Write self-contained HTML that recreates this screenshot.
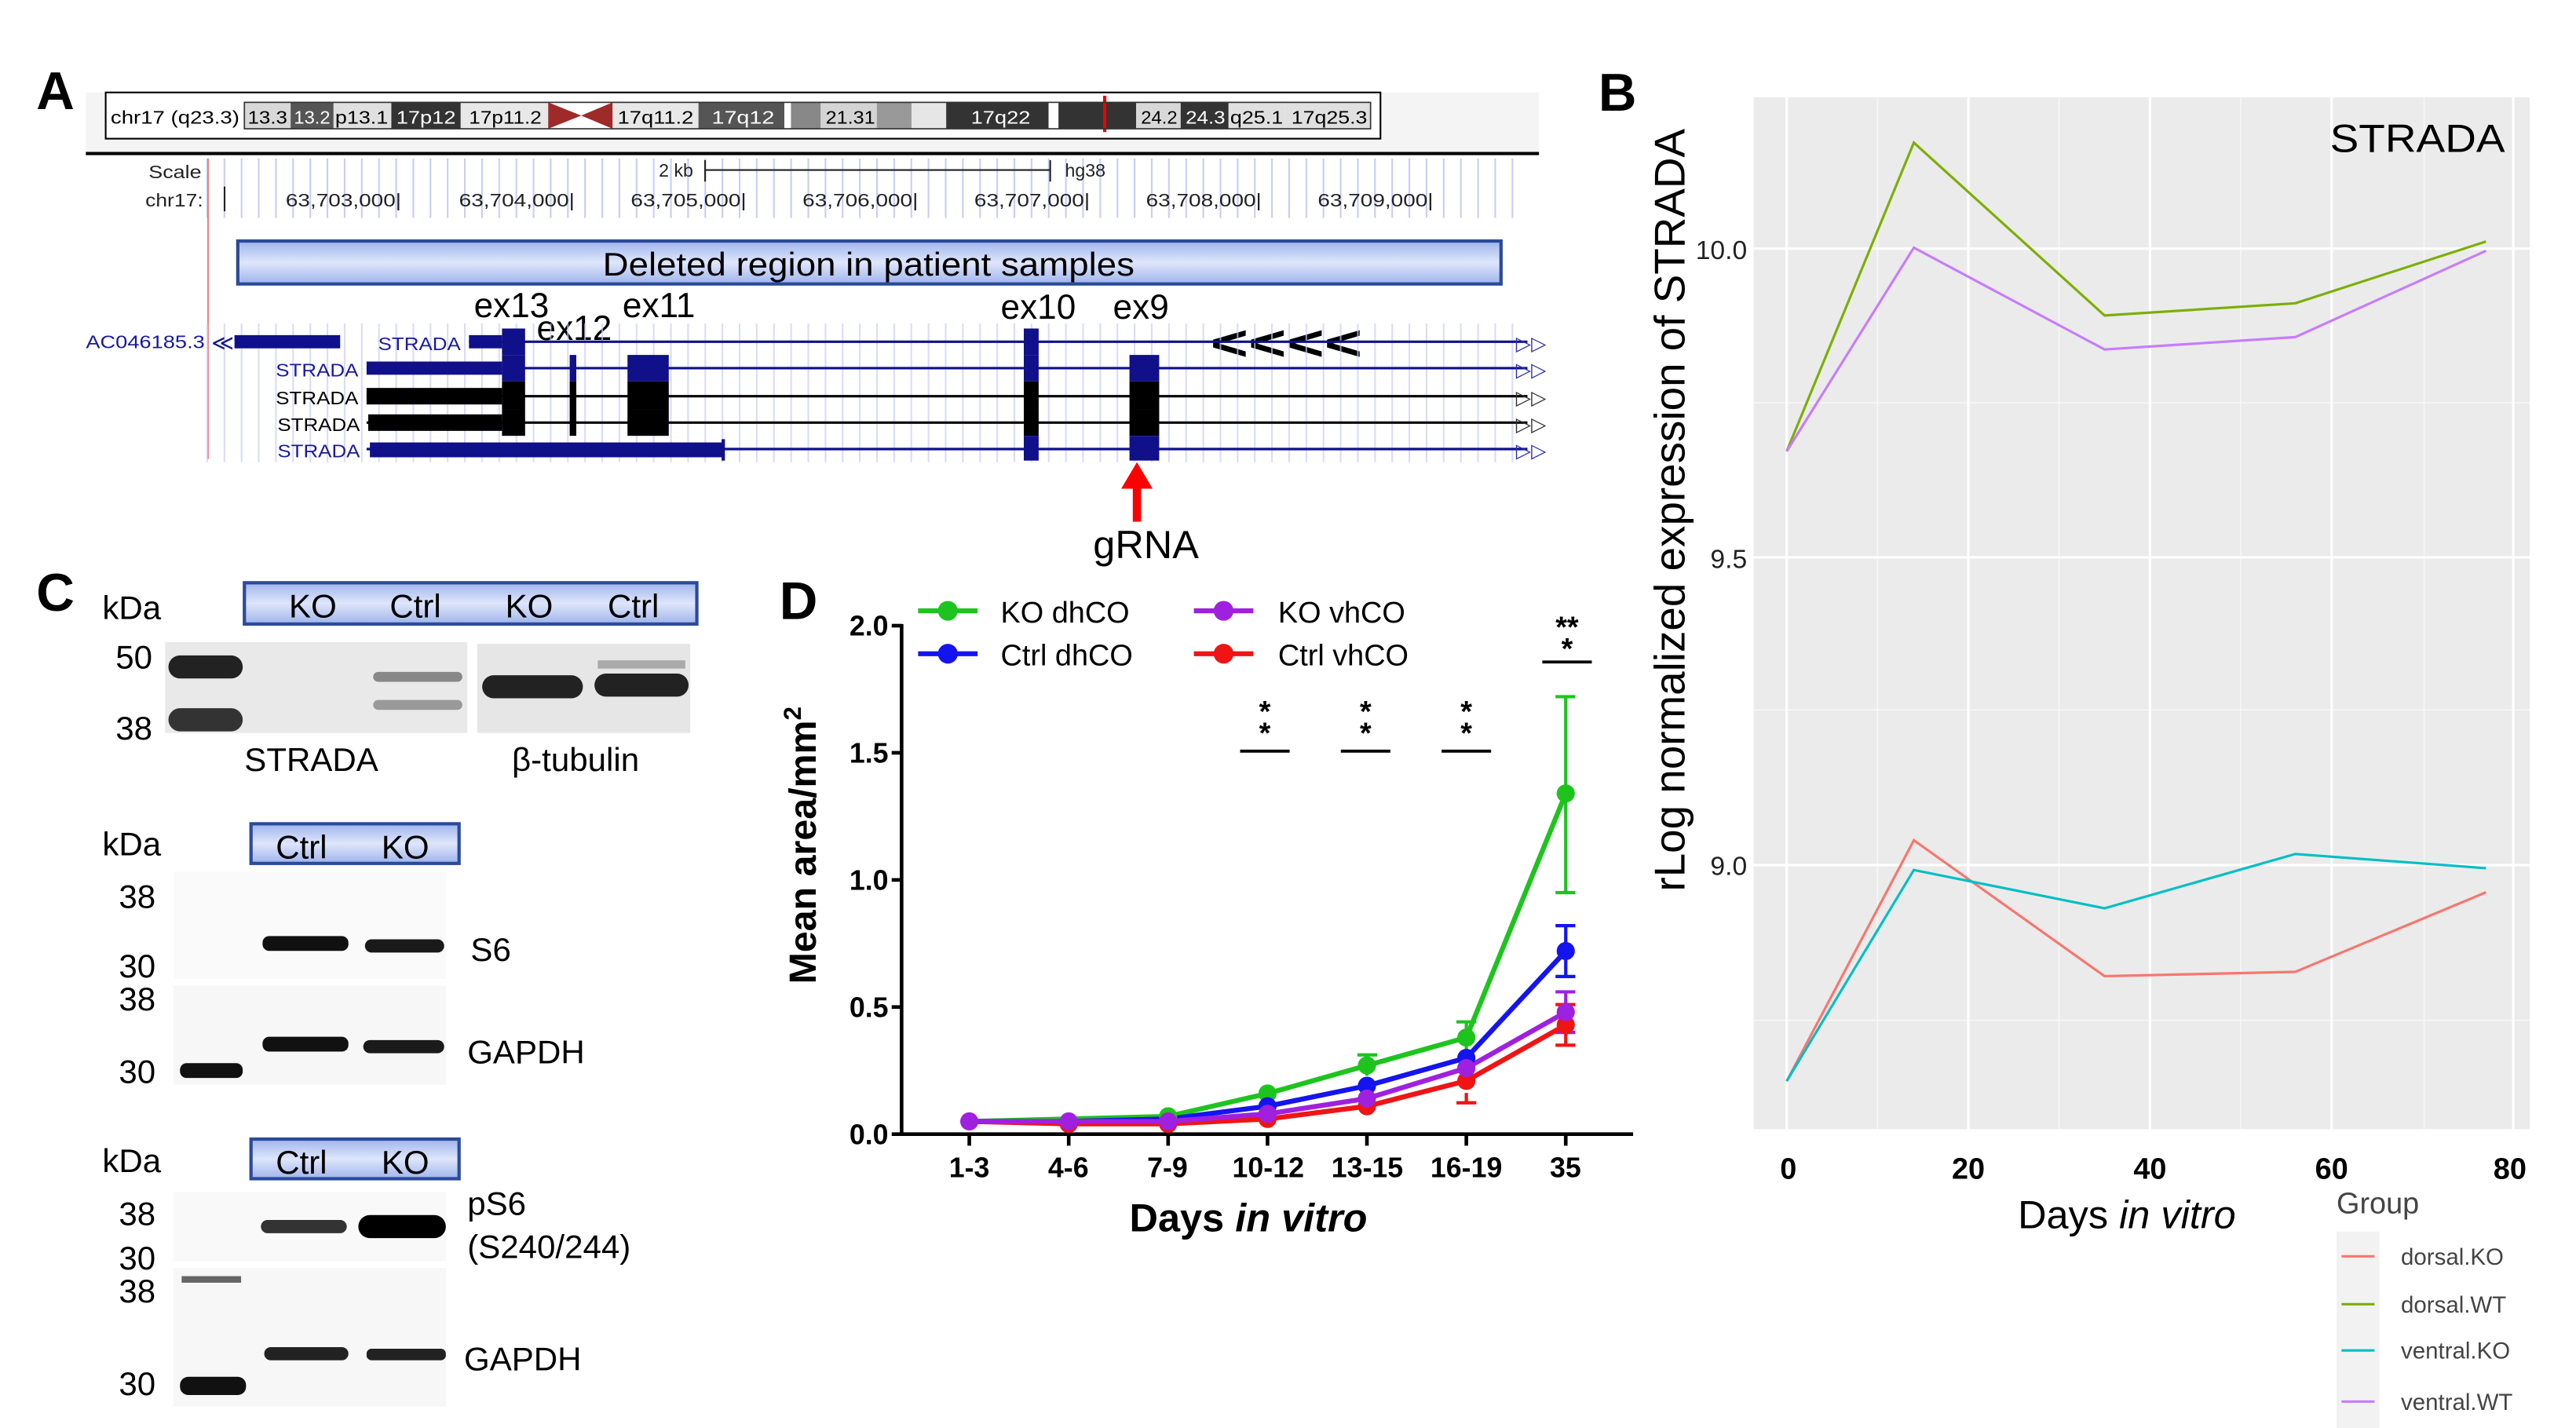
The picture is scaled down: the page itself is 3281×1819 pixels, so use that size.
<!DOCTYPE html>
<html><head><meta charset="utf-8"><style>html,body{margin:0;padding:0;background:#fff}svg{display:block}</style></head>
<body>
<svg xmlns="http://www.w3.org/2000/svg" width="3281" height="1819" viewBox="0 0 1560 865" preserveAspectRatio="none" font-family="Liberation Sans, sans-serif">
<defs>
<linearGradient id="bg1" x1="0" y1="0" x2="0" y2="1"><stop offset="0" stop-color="#9fb4ec"/><stop offset="0.5" stop-color="#dfe6fb"/><stop offset="1" stop-color="#9fb4ec"/></linearGradient>
<pattern id="grid" width="10.4" height="40" patternUnits="userSpaceOnUse" x="125"><line x1="0.5" y1="0" x2="0.5" y2="40" stroke="#c8cdf5" stroke-width="1"/></pattern>
</defs>
<rect width="1560" height="865" fill="#fff"/>
<!-- PANEL A -->
<text x="22" y="66" font-size="32" font-weight="bold">A</text>
<rect x="52" y="56" width="880" height="37" fill="#f4f4f4"/>
<line x1="52" y1="93" x2="932" y2="93" stroke="#000" stroke-width="2"/>
<rect x="64" y="56" width="772" height="28" fill="#fff" stroke="#000" stroke-width="1"/>
<text x="67" y="75" font-size="11" textLength="78" lengthAdjust="spacingAndGlyphs">chr17 (q23.3)</text>
<g font-size="11" stroke="none">
<rect x="148" y="62" width="28" height="16" fill="#d8d8d8"/><text x="150" y="75" textLength="24" lengthAdjust="spacingAndGlyphs">13.3</text>
<rect x="176" y="62" width="26" height="16" fill="#555"/><text x="178" y="75" fill="#fff" textLength="22" lengthAdjust="spacingAndGlyphs">13.2</text>
<rect x="202" y="62" width="35" height="16" fill="#e0e0e0"/><text x="203" y="75" textLength="32" lengthAdjust="spacingAndGlyphs">p13.1</text>
<rect x="237" y="62" width="42" height="16" fill="#333"/><text x="240" y="75" fill="#fff" textLength="36" lengthAdjust="spacingAndGlyphs">17p12</text>
<rect x="279" y="62" width="53" height="16" fill="#e8e8e8"/><text x="284" y="75" textLength="44" lengthAdjust="spacingAndGlyphs">17p11.2</text>
<polygon points="332,62 352,70 332,78" fill="#9e2a2a"/><polygon points="371,62 352,70 371,78" fill="#9e2a2a"/>
<rect x="371" y="62" width="52" height="16" fill="#e8e8e8"/><text x="374" y="75" textLength="46" lengthAdjust="spacingAndGlyphs">17q11.2</text>
<rect x="423" y="62" width="52" height="16" fill="#555"/><text x="431" y="75" fill="#fff" textLength="38" lengthAdjust="spacingAndGlyphs">17q12</text>
<rect x="475" y="62" width="4" height="16" fill="#fff"/>
<rect x="479" y="62" width="18" height="16" fill="#888"/>
<rect x="497" y="62" width="34" height="16" fill="#d4d4d4"/><text x="500" y="75" textLength="30" lengthAdjust="spacingAndGlyphs">21.31</text>
<rect x="531" y="62" width="21" height="16" fill="#999"/>
<rect x="552" y="62" width="21" height="16" fill="#e6e6e6"/>
<rect x="573" y="62" width="62" height="16" fill="#333"/><text x="588" y="75" fill="#fff" textLength="36" lengthAdjust="spacingAndGlyphs">17q22</text>
<rect x="635" y="62" width="6" height="16" fill="#fff"/>
<rect x="641" y="62" width="47" height="16" fill="#333"/>
<rect x="668" y="58" width="2" height="22" fill="#e00"/>
<rect x="688" y="62" width="27" height="16" fill="#d8d8d8"/><text x="691" y="75" textLength="22" lengthAdjust="spacingAndGlyphs">24.2</text>
<rect x="715" y="62" width="29" height="16" fill="#333"/><text x="718" y="75" fill="#fff" textLength="24" lengthAdjust="spacingAndGlyphs">24.3</text>
<rect x="744" y="62" width="34" height="16" fill="#e0e0e0"/><text x="745" y="75" textLength="32" lengthAdjust="spacingAndGlyphs">q25.1</text>
<rect x="778" y="62" width="52" height="16" fill="#e0e0e0"/><text x="782" y="75" textLength="46" lengthAdjust="spacingAndGlyphs">17q25.3</text>
<rect x="148" y="62" width="682" height="16" fill="none" stroke="#333" stroke-width="0.8"/>
</g>
<rect x="125" y="96" width="800" height="36" fill="url(#grid)"/>
<line x1="126" y1="96" x2="126" y2="278" stroke="#f08080" stroke-width="1"/>
<text x="90" y="108" font-size="11" textLength="32" lengthAdjust="spacingAndGlyphs" fill="#222">Scale</text>
<text x="88" y="125" font-size="11" textLength="35" lengthAdjust="spacingAndGlyphs" fill="#222">chr17:</text>
<text x="399" y="107" font-size="11" fill="#222">2 kb</text>
<line x1="427" y1="103" x2="636" y2="103" stroke="#222"/><line x1="427" y1="97" x2="427" y2="110" stroke="#222"/><line x1="636" y1="97" x2="636" y2="110" stroke="#222"/>
<text x="645" y="107" font-size="11" fill="#222">hg38</text>
<line x1="136" y1="113" x2="136" y2="128" stroke="#222"/>
<g font-size="11" fill="#222">
<text x="173" y="125" textLength="70" lengthAdjust="spacingAndGlyphs">63,703,000|</text>
<text x="278" y="125" textLength="70" lengthAdjust="spacingAndGlyphs">63,704,000|</text>
<text x="382" y="125" textLength="70" lengthAdjust="spacingAndGlyphs">63,705,000|</text>
<text x="486" y="125" textLength="70" lengthAdjust="spacingAndGlyphs">63,706,000|</text>
<text x="590" y="125" textLength="70" lengthAdjust="spacingAndGlyphs">63,707,000|</text>
<text x="694" y="125" textLength="70" lengthAdjust="spacingAndGlyphs">63,708,000|</text>
<text x="798" y="125" textLength="70" lengthAdjust="spacingAndGlyphs">63,709,000|</text>
</g>
<rect x="144" y="146" width="765" height="26" fill="url(#bg1)" stroke="#2b4a9a" stroke-width="2"/>
<text x="526" y="167" font-size="20" text-anchor="middle" textLength="322" lengthAdjust="spacingAndGlyphs">Deleted region in patient samples</text>
<g font-size="21">
<text x="287" y="192">ex13</text><text x="325" y="206">ex12</text><text x="377" y="192">ex11</text>
<text x="606" y="193">ex10</text><text x="674" y="193">ex9</text>
</g>
<text x="733" y="218" font-size="30" font-weight="bold" textLength="92" lengthAdjust="spacingAndGlyphs">&lt;&lt;&lt;&lt;</text>
<rect x="125" y="196" width="800" height="84" fill="url(#grid)" opacity="0.7"/>
<!-- rows -->
<g>
<text x="52" y="211" font-size="11" fill="#1a1aa0" textLength="72" lengthAdjust="spacingAndGlyphs">AC046185.3</text>
<text x="128" y="212" font-size="13" fill="#1a1a8c">≪</text>
<rect x="142" y="203" width="64" height="8" fill="#10108a"/>
<text x="229" y="212" font-size="11" fill="#1a1aa0" textLength="50" lengthAdjust="spacingAndGlyphs">STRADA</text>
<line x1="284" y1="207" x2="925" y2="207" stroke="#10108a" stroke-width="1.5"/>
<rect x="284" y="203" width="20" height="8" fill="#10108a"/><rect x="304" y="199" width="14" height="16" fill="#10108a"/>
<rect x="620" y="199" width="9" height="16" fill="#10108a"/>
<text x="918" y="212" font-size="12" fill="#3030b0">▷▷</text>
</g>
<g>
<text x="167" y="228" font-size="11" fill="#1a1aa0" textLength="50" lengthAdjust="spacingAndGlyphs">STRADA</text>
<line x1="222" y1="223" x2="925" y2="223" stroke="#10108a" stroke-width="1.5"/>
<rect x="222" y="219" width="82" height="8" fill="#10108a"/><rect x="304" y="215" width="14" height="16" fill="#10108a"/>
<rect x="345" y="215" width="4" height="16" fill="#10108a"/><rect x="380" y="215" width="25" height="16" fill="#10108a"/>
<rect x="620" y="215" width="9" height="16" fill="#10108a"/><rect x="684" y="215" width="18" height="16" fill="#10108a"/>
<text x="918" y="228" font-size="12" fill="#3030b0">▷▷</text>
</g>
<g>
<text x="167" y="245" font-size="11" fill="#000" textLength="50" lengthAdjust="spacingAndGlyphs">STRADA</text>
<line x1="222" y1="240" x2="925" y2="240" stroke="#000" stroke-width="1.5"/>
<rect x="222" y="235" width="82" height="10" fill="#000"/><rect x="304" y="231" width="14" height="17" fill="#000"/>
<rect x="345" y="231" width="4" height="17" fill="#000"/><rect x="380" y="231" width="25" height="17" fill="#000"/>
<rect x="620" y="231" width="9" height="17" fill="#000"/><rect x="684" y="231" width="18" height="17" fill="#000"/>
<text x="918" y="245" font-size="12" fill="#333">▷▷</text>
</g>
<g>
<text x="168" y="261" font-size="11" fill="#000" textLength="50" lengthAdjust="spacingAndGlyphs">STRADA</text>
<line x1="222" y1="256" x2="925" y2="256" stroke="#000" stroke-width="1.5"/>
<rect x="223" y="251" width="81" height="10" fill="#000"/><rect x="304" y="248" width="14" height="16" fill="#000"/>
<rect x="345" y="248" width="4" height="16" fill="#000"/><rect x="380" y="248" width="25" height="16" fill="#000"/>
<rect x="620" y="248" width="9" height="16" fill="#000"/><rect x="684" y="248" width="18" height="16" fill="#000"/>
<text x="918" y="261" font-size="12" fill="#333">▷▷</text>
</g>
<g>
<text x="168" y="277" font-size="11" fill="#1a1aa0" textLength="50" lengthAdjust="spacingAndGlyphs">STRADA</text>
<line x1="222" y1="272" x2="925" y2="272" stroke="#10108a" stroke-width="1.5"/>
<rect x="224" y="268" width="214" height="9" fill="#10108a"/><rect x="437" y="266" width="2" height="13" fill="#10108a"/>
<rect x="620" y="264" width="9" height="15" fill="#10108a"/><rect x="684" y="264" width="18" height="15" fill="#10108a"/>
<text x="918" y="277" font-size="12" fill="#3030b0">▷▷</text>
</g>
<rect x="686" y="294" width="5" height="22" fill="#f00"/><polygon points="679,296 688.5,280 698,296" fill="#f00"/>
<text x="694" y="338" font-size="24" text-anchor="middle">gRNA</text>

<!-- PANEL B -->
<text x="968" y="67" font-size="32" font-weight="bold">B</text>
<rect x="1062" y="59" width="470" height="625" fill="#ebebeb"/>
<g stroke="#f7f7f7" stroke-width="0.7">
<line x1="1062" y1="244" x2="1532" y2="244"/><line x1="1062" y1="430" x2="1532" y2="430"/><line x1="1062" y1="618" x2="1532" y2="618"/>
<line x1="1137" y1="59" x2="1137" y2="684"/><line x1="1247" y1="59" x2="1247" y2="684"/><line x1="1357" y1="59" x2="1357" y2="684"/><line x1="1468" y1="59" x2="1468" y2="684"/>
</g>
<g stroke="#fff" stroke-width="1.5">
<line x1="1062" y1="150.6" x2="1532" y2="150.6"/><line x1="1062" y1="337.6" x2="1532" y2="337.6"/><line x1="1062" y1="524" x2="1532" y2="524"/>
<line x1="1082" y1="59" x2="1082" y2="684"/><line x1="1192" y1="59" x2="1192" y2="684"/><line x1="1302" y1="59" x2="1302" y2="684"/><line x1="1412" y1="59" x2="1412" y2="684"/><line x1="1522" y1="59" x2="1522" y2="684"/>
</g>
<g fill="none" stroke-width="1.5">
<polyline points="1082,273.4 1159,86.4 1274.5,191.1 1390,183.7 1505.5,146.3" stroke="#7cae00"/>
<polyline points="1082,273.4 1159,150 1274.5,211.7 1390,204.2 1505.5,151.9" stroke="#c77cff"/>
<polyline points="1082,654.9 1159,509 1274.5,591.3 1390,588.7 1505.5,540.5" stroke="#f8766d"/>
<polyline points="1082,654.9 1159,527 1274.5,550.2 1390,517.3 1505.5,525.9" stroke="#00bfc4"/>
</g>
<g font-size="16" text-anchor="end" fill="#222"><text x="1058" y="157">10.0</text><text x="1058" y="344">9.5</text><text x="1058" y="530">9.0</text></g>
<g font-size="18" font-weight="bold" text-anchor="middle"><text x="1083" y="714">0</text><text x="1192" y="714">20</text><text x="1302" y="714">40</text><text x="1412" y="714">60</text><text x="1520" y="714">80</text></g>
<text x="1288" y="744" font-size="24" text-anchor="middle">Days <tspan font-style="italic">in vitro</tspan></text>
<text transform="translate(1020,309) rotate(-90)" font-size="26" text-anchor="middle" textLength="462" lengthAdjust="spacingAndGlyphs">rLog normalized expression of STRADA</text>
<text x="1411" y="92" font-size="24" textLength="106" lengthAdjust="spacingAndGlyphs">STRADA</text>
<text x="1415" y="735" font-size="18" fill="#444">Group</text>
<rect x="1415" y="746" width="26" height="119" fill="#f2f2f2"/>
<g stroke-width="1.5"><line x1="1418" y1="761" x2="1438" y2="761" stroke="#f8766d"/><line x1="1418" y1="790" x2="1438" y2="790" stroke="#7cae00"/><line x1="1418" y1="818" x2="1438" y2="818" stroke="#00bfc4"/><line x1="1418" y1="849" x2="1438" y2="849" stroke="#c77cff"/></g>
<g font-size="14" fill="#444"><text x="1454" y="766">dorsal.KO</text><text x="1454" y="795">dorsal.WT</text><text x="1454" y="823">ventral.KO</text><text x="1454" y="854">ventral.WT</text></g>

<!-- PANEL C -->
<text x="22" y="370" font-size="32" font-weight="bold">C</text>
<g font-size="20">
<text x="62" y="375">kDa</text>
<rect x="148" y="353" width="274" height="25" fill="url(#bg1)" stroke="#2b4a9a" stroke-width="2"/>
<text x="175" y="374">KO</text><text x="236" y="374">Ctrl</text><text x="306" y="374">KO</text><text x="368" y="374">Ctrl</text>
<rect x="100" y="389" width="183" height="55" fill="#e9e9e9"/>
<rect x="102" y="397" width="45" height="14" rx="7" fill="#222"/><rect x="102" y="429" width="45" height="14" rx="7" fill="#333"/>
<rect x="226" y="407" width="54" height="6" rx="3" fill="#888"/><rect x="226" y="424" width="54" height="6" rx="3" fill="#999"/>
<rect x="289" y="390" width="129" height="54" fill="#e6e6e6"/>
<rect x="292" y="409" width="61" height="14" rx="7" fill="#222"/><rect x="360" y="408" width="57" height="14" rx="7" fill="#222"/><rect x="362" y="400" width="53" height="5" fill="#aaa"/>
<text x="70" y="405">50</text><text x="70" y="448">38</text>
<text x="148" y="467">STRADA</text><text x="310" y="467">β-tubulin</text>

<text x="62" y="518">kDa</text>
<rect x="152" y="499" width="126" height="24" fill="url(#bg1)" stroke="#2b4a9a" stroke-width="2"/>
<text x="167" y="520">Ctrl</text><text x="231" y="520">KO</text>
<rect x="105" y="528" width="165" height="65" fill="#fafafa"/>
<rect x="159" y="567" width="52" height="9" rx="4" fill="#111"/><rect x="221" y="569" width="48" height="8" rx="4" fill="#1a1a1a"/>
<text x="72" y="550">38</text><text x="72" y="592">30</text><text x="285" y="582">S6</text>
<rect x="105" y="597" width="165" height="60" fill="#f7f7f7"/>
<rect x="109" y="644" width="38" height="9" rx="4" fill="#111"/>
<rect x="159" y="628" width="52" height="9" rx="4" fill="#111"/><rect x="220" y="630" width="49" height="8" rx="4" fill="#1a1a1a"/>
<text x="72" y="612">38</text><text x="72" y="656">30</text><text x="283" y="644">GAPDH</text>

<text x="62" y="710">kDa</text>
<rect x="152" y="690" width="126" height="24" fill="url(#bg1)" stroke="#2b4a9a" stroke-width="2"/>
<text x="167" y="711">Ctrl</text><text x="231" y="711">KO</text>
<rect x="105" y="722" width="165" height="42" fill="#f9f9f9"/>
<rect x="158" y="739" width="52" height="8" rx="4" fill="#333"/><rect x="217" y="736" width="53" height="14" rx="7" fill="#000"/>
<text x="72" y="742">38</text><text x="72" y="769">30</text><text x="283" y="736">pS6</text><text x="283" y="762">(S240/244)</text>
<rect x="105" y="768" width="165" height="84" fill="#f7f7f7"/>
<rect x="110" y="773" width="36" height="4" fill="#666"/>
<rect x="109" y="834" width="40" height="11" rx="5" fill="#111"/>
<rect x="160" y="816" width="51" height="8" rx="4" fill="#222"/><rect x="222" y="817" width="48" height="7" rx="3" fill="#222"/>
<text x="72" y="789">38</text><text x="72" y="845">30</text><text x="281" y="830">GAPDH</text>
</g>

<!-- PANEL D -->
<text x="472" y="375" font-size="32" font-weight="bold">D</text>
<g stroke="#000" stroke-width="2.2">
<line x1="546" y1="378" x2="546" y2="688"/><line x1="540" y1="687" x2="989" y2="687"/>
<line x1="540" y1="379" x2="546" y2="379"/><line x1="540" y1="456" x2="546" y2="456"/><line x1="540" y1="533" x2="546" y2="533"/><line x1="540" y1="610" x2="546" y2="610"/>
<line x1="587" y1="687" x2="587" y2="694"/><line x1="647.2" y1="687" x2="647.2" y2="694"/><line x1="707.4" y1="687" x2="707.4" y2="694"/><line x1="767.6" y1="687" x2="767.6" y2="694"/><line x1="827.8" y1="687" x2="827.8" y2="694"/><line x1="888" y1="687" x2="888" y2="694"/><line x1="948.2" y1="687" x2="948.2" y2="694"/>
</g>
<g font-size="17" font-weight="bold" text-anchor="end"><text x="538" y="385">2.0</text><text x="538" y="462">1.5</text><text x="538" y="539">1.0</text><text x="538" y="616">0.5</text><text x="538" y="693">0.0</text></g>
<g font-size="17" font-weight="bold" text-anchor="middle"><text x="587" y="713">1-3</text><text x="647" y="713">4-6</text><text x="707" y="713">7-9</text><text x="768" y="713">10-12</text><text x="828" y="713">13-15</text><text x="888" y="713">16-19</text><text x="948" y="713">35</text></g>
<text x="756" y="746" font-size="24" font-weight="bold" text-anchor="middle">Days <tspan font-style="italic">in vitro</tspan></text>
<text transform="translate(494,512) rotate(-90)" font-size="23" font-weight="bold" text-anchor="middle">Mean area/mm<tspan font-size="15" dy="-9">2</tspan></text>
<!-- error bars -->
<g stroke-width="2" fill="none">
<path d="M948.2,422 V540.7 M942,422 H954 M942,540.7 H954 M888,619 V637.7 M882,619 H894 M827.8,639 V651.6 M822,639 H834" stroke="#1ec41e"/>
<path d="M948.2,560.7 V591.5 M942,560.7 H954 M942,591.5 H954" stroke="#1414f0"/>
<path d="M948.2,600.8 V625.4 M942,600.8 H954 M942,625.4 H954" stroke="#a020e0"/>
<path d="M948.2,608.5 V633.1 M942,608.5 H954 M942,633.1 H954 M888,662 V668 M882,668 H894" stroke="#f01414"/>
</g>
<g stroke-width="3" fill="none">
<polyline points="587,679.3 647.2,677.8 707.4,676.2 767.6,662.4 827.8,645.4 888,628.5 948.2,480.6" stroke="#1ec41e"/>
<polyline points="587,679.3 647.2,679.3 707.4,677.8 767.6,670.1 827.8,657.7 888,640.8 948.2,576.1" stroke="#1414f0"/>
<polyline points="587,679.3 647.2,680.8 707.4,680.8 767.6,677.8 827.8,670.1 888,654.7 948.2,620.8" stroke="#f01414"/>
<polyline points="587,679.3 647.2,679.3 707.4,679.3 767.6,674.7 827.8,665.4 888,647 948.2,613.1" stroke="#a020e0"/>
</g>
<g fill="#1ec41e"><circle cx="707.4" cy="676.2" r="5.5"/><circle cx="767.6" cy="662.4" r="5.5"/><circle cx="827.8" cy="645.4" r="5.5"/><circle cx="888" cy="628.5" r="5.5"/><circle cx="948.2" cy="480.6" r="5.5"/></g>
<g fill="#1414f0"><circle cx="767.6" cy="670.1" r="5.5"/><circle cx="827.8" cy="657.7" r="5.5"/><circle cx="888" cy="640.8" r="5.5"/><circle cx="948.2" cy="576.1" r="5.5"/></g>
<g fill="#f01414"><circle cx="647.2" cy="680.8" r="5.5"/><circle cx="707.4" cy="680.8" r="5.5"/><circle cx="767.6" cy="677.8" r="5.5"/><circle cx="827.8" cy="670.1" r="5.5"/><circle cx="888" cy="654.7" r="5.5"/><circle cx="948.2" cy="620.8" r="5.5"/></g>
<g fill="#a020e0"><circle cx="587" cy="679.3" r="5.5"/><circle cx="647.2" cy="679.3" r="5.5"/><circle cx="707.4" cy="679.3" r="5.5"/><circle cx="767.6" cy="674.7" r="5.5"/><circle cx="827.8" cy="665.4" r="5.5"/><circle cx="888" cy="647" r="5.5"/><circle cx="948.2" cy="613.1" r="5.5"/></g>
<!-- legend -->
<g stroke-width="3"><line x1="556" y1="370" x2="592" y2="370" stroke="#1ec41e"/><line x1="556" y1="396" x2="592" y2="396" stroke="#1414f0"/><line x1="723" y1="370" x2="759" y2="370" stroke="#a020e0"/><line x1="723" y1="396" x2="759" y2="396" stroke="#f01414"/></g>
<circle cx="574" cy="370" r="6" fill="#1ec41e"/><circle cx="574" cy="396" r="6" fill="#1414f0"/><circle cx="741" cy="370" r="6" fill="#a020e0"/><circle cx="741" cy="396" r="6" fill="#f01414"/>
<g font-size="18"><text x="606" y="377">KO dhCO</text><text x="606" y="403">Ctrl dhCO</text><text x="774" y="377">KO vhCO</text><text x="774" y="403">Ctrl vhCO</text></g>
<!-- significance -->
<g font-size="18" font-weight="bold" text-anchor="middle">
<text x="766" y="437">*</text><text x="766" y="450">*</text>
<text x="827" y="437">*</text><text x="827" y="450">*</text>
<text x="888" y="437">*</text><text x="888" y="450">*</text>
<text x="949" y="386">**</text><text x="949" y="399">*</text>
</g>
<g stroke="#000" stroke-width="1.8"><line x1="751" y1="455" x2="781" y2="455"/><line x1="812" y1="455" x2="842" y2="455"/><line x1="873" y1="455" x2="903" y2="455"/><line x1="934" y1="401" x2="964" y2="401"/></g>
</svg>
</body></html>
